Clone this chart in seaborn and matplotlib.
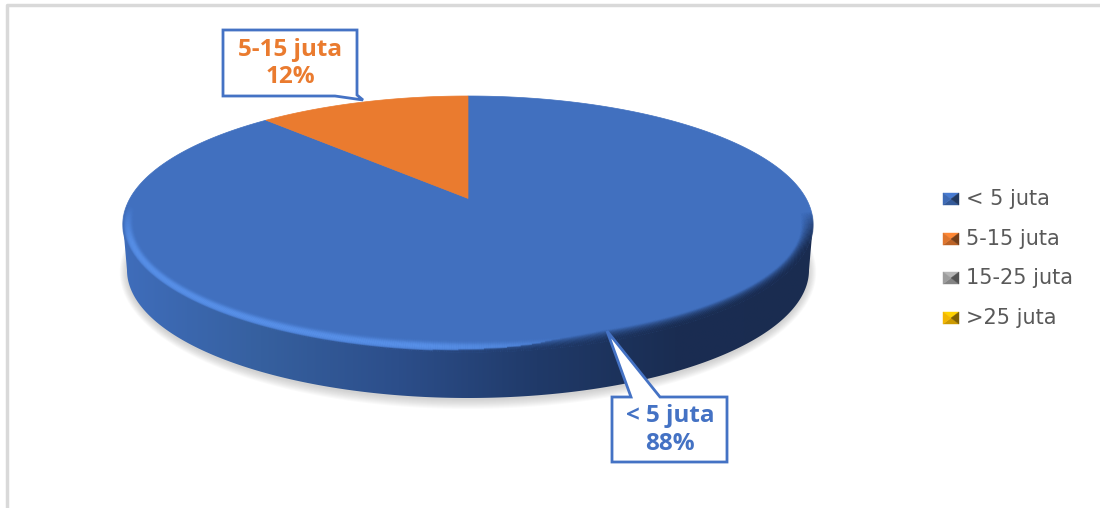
import numpy as np
import matplotlib
matplotlib.use('Agg')
import matplotlib.pyplot as plt
import seaborn as sns
from matplotlib.collections import LineCollection
from matplotlib.colors import to_rgb
from matplotlib.patches import Polygon

# data
categories = ['< 5 juta', '5-15 juta', '15-25 juta', '>25 juta']
values = [88, 12, 0, 0]
percent_labels = ['88%', '12%']
slice_colors = ['#4170BF', '#EA7B2F', '#A5A5A5', '#FFC000']

sns.set_theme(style='white')
plt.rcParams['font.family'] = ['Open Sans', 'DejaVu Sans']

palette = sns.color_palette(slice_colors)
wall_cmap = sns.blend_palette(['#3F6DBB', '#36609F', '#2C4E8A', '#203A69', '#1A2D52', '#1A2C50'], as_cmap=True)

# pixel geometry of the tilted disc
CX, CY, RX, RY = 468, 224, 345, 128
TILT = 0.2
DEPTH_CY, DEPTH_RX = 270, 341


def project(x, y):
    # keeps the unit circle, moves the centre away from the viewer
    k = 1 + TILT * y
    return CX + RX * x * np.sqrt(1 - TILT ** 2) / k, CY - RY * (y + TILT) / k


def ellipse(cx, cy, rx, ry, t):
    return np.column_stack([cx + rx * np.cos(t), cy - ry * np.sin(t)])


fig = plt.figure(figsize=(11, 5.08), dpi=100, facecolor='white')
ax = fig.add_axes([0, 0, 1, 1])

wedges, _ = ax.pie(values, startangle=90, counterclock=False)
angles = [(w.theta1, w.theta2) for w in wedges]
for w in wedges:
    w.remove()

# frame of the pasted chart
ax.plot([7, 7, 1100], [508, 5, 5], color='#D9D9D9', lw=2.5, zorder=1)

# soft shadow under the disc
t_full = np.linspace(0, 2 * np.pi, 300)
for grow in np.linspace(9, 0, 10):
    ax.add_patch(Polygon(ellipse(CX, DEPTH_CY + 2, DEPTH_RX + grow * 0.8, RY + grow, t_full),
                         closed=True, fc='#808080', ec='none', alpha=0.04, zorder=2))

# side wall with the dark gradient
t_low = np.linspace(np.pi, 2 * np.pi, 300)
wall_pts = np.vstack([ellipse(CX, CY, RX, RY, t_low), ellipse(CX, DEPTH_CY, DEPTH_RX, RY, t_low[::-1])])
wall = Polygon(wall_pts, closed=True, fc='none', ec='none', zorder=3)
ax.add_patch(wall)
im = ax.imshow(np.linspace(0, 1, 256).reshape(1, -1), cmap=wall_cmap, extent=[122, 814, 400, 220],
               aspect='auto', zorder=3, interpolation='bilinear')
im.set_clip_path(wall)

# top face, one polygon per slice
for (t1, t2), color in zip(angles, palette):
    if t2 - t1 < 1e-6:
        continue
    t = np.radians(np.linspace(t1, t2, 300))
    px, py = project(np.cos(t), np.sin(t))
    ax0, ay0 = project(0.0, 0.0)
    pts = np.vstack([[ax0, ay0], np.column_stack([px, py])])
    ax.add_patch(Polygon(pts, closed=True, fc=color, ec=color, lw=0.5, zorder=4))

# bevel on the lower rim: bright on the left half, dark shade on the right
t_rim = np.linspace(np.pi * 0.95, 2.03 * np.pi, 500)
light = np.array(to_rgb('#5A93EC'))
for off in np.arange(0, 15, 0.8):
    rim = ellipse(CX, CY, RX - off, RY - off, t_rim)
    segs = np.stack([rim[:-1], rim[1:]], axis=1)
    mid_x = segs[:, :, 0].mean(axis=1)
    taper = np.clip((t_rim[:-1] - t_rim[0]) / 0.3, 0, 1) * np.clip((t_rim[-1] - t_rim[:-1]) / 0.3, 0, 1)
    mix = np.clip((mid_x - 420) / 180, 0, 1)
    wall_rgb = np.array(wall_cmap(np.clip((mid_x - 122) / 692, 0, 1)))[:, :3]
    shade_a = np.clip(1 - off / (1.5 + 10 * mix), 0, 1) * taper
    light_a = np.exp(-((off - 5) / 3.6) ** 2) * 0.75 * (1 - mix) * taper
    total = np.maximum(shade_a, light_a)
    use_light = (light_a > shade_a)[:, None]
    rgba = np.column_stack([np.where(use_light, light, wall_rgb), total])
    ax.add_collection(LineCollection(segs, colors=rgba, linewidths=1.2, capstyle='butt', zorder=5))

# callouts
box_edge = '#4472C4'
orange_box = [(223, 30), (357, 30), (357, 95), (363, 100), (335, 96), (223, 96)]
blue_box = [(612, 397), (631, 397), (607, 331), (660, 397), (727, 397), (727, 462), (612, 462)]
for pts in (orange_box, blue_box):
    ax.add_patch(Polygon(pts, closed=True, fc='white', ec=box_edge, lw=2, joinstyle='miter', zorder=6))

label_font = dict(fontsize=17.5, fontweight='bold', ha='center', va='center', zorder=7)
ax.text(290, 50, categories[1], color=palette[1], **label_font)
ax.text(290, 77, percent_labels[1], color=palette[1], **label_font)
ax.text(670, 416, categories[0], color=box_edge, **label_font)
ax.text(670, 444, percent_labels[0], color=box_edge, **label_font)

# legend, the little markers have a pyramid bevel
legend_y = [199, 239, 278, 318]
for name, color, y in zip(categories, palette, legend_y):
    x0, x1, y0, y1 = 943, 959, y - 6, y + 6
    xc, yc = 951, y
    c = np.array(color)
    shades = [np.minimum(c * 1.1, 1), c * 0.8, c * 0.5, np.minimum(c * 0.95, 1)]
    tris = [[(x0, y0), (x1, y0), (xc, yc)], [(x0, y1), (x1, y1), (xc, yc)],
            [(x1, y0), (x1, y1), (xc, yc)], [(x0, y0), (x0, y1), (xc, yc)]]
    for tri, shade in zip(tris, shades):
        ax.add_patch(Polygon(tri, closed=True, fc=shade, ec=shade, lw=0.3, zorder=6))
    ax.text(966, y, name, color='#595959', fontsize=15, family=['DejaVu Sans'], ha='left', va='center', zorder=7)

ax.set_xlim(0, 1100)
ax.set_ylim(508, 0)
ax.set_aspect('auto')
ax.axis('off')

fig.savefig('out.png', dpi=100, facecolor='white')
